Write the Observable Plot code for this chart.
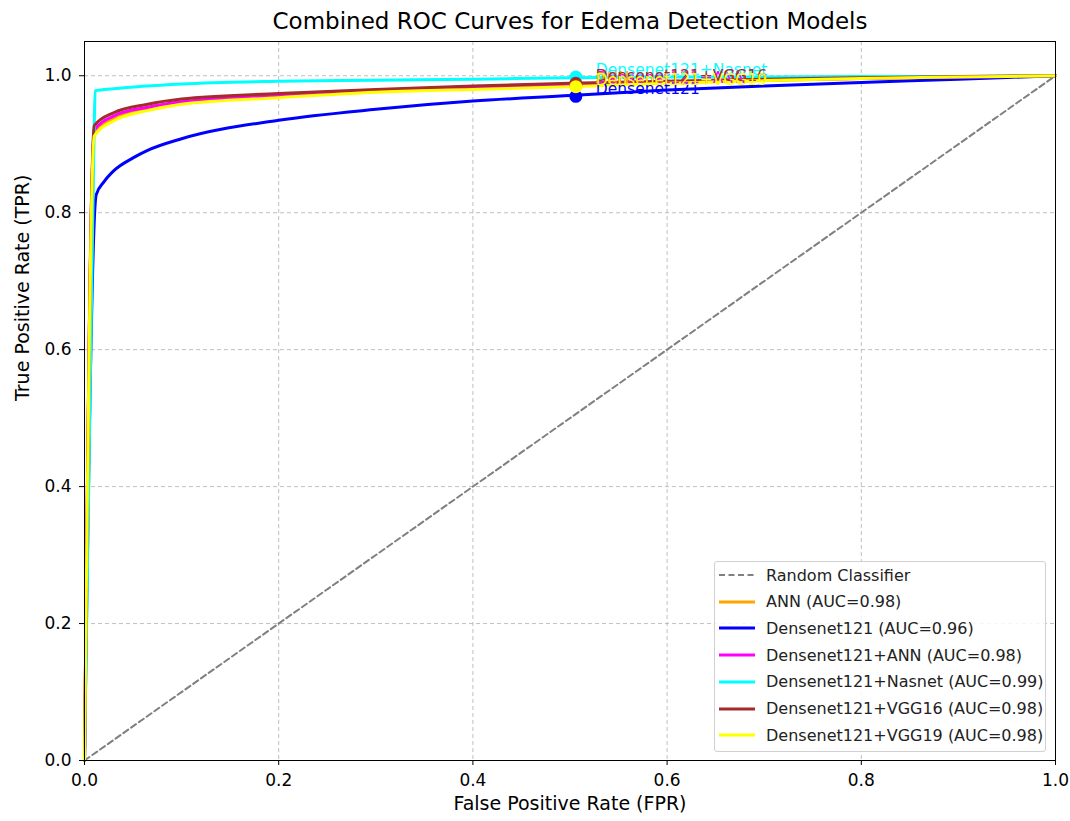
<!DOCTYPE html>
<html>
<head>
<meta charset="utf-8">
<script src="https://cdn.jsdelivr.net/npm/d3@7"></script>
<script src="https://cdn.jsdelivr.net/npm/@observablehq/plot@0.6"></script>
<style>
  body { margin: 0; background: #fff; font-family: "DejaVu Sans", sans-serif; }
  #wrap { position: relative; width: 1070px; height: 821px; }
  #legend { position: absolute; left: 714px; top: 561px; width: 332px; height: 191px; box-sizing: border-box;
    border: 1px solid #d0d0d0; border-radius: 3px; background: rgba(255,255,255,0.85); font-size: 16px; color: #222; }
  .row { position: absolute; left: 0; height: 20px; display: flex; align-items: center; white-space: nowrap; }
  .row svg { margin-left: 4px; margin-right: 11px; }
</style>
</head>
<body>
<div id="wrap"></div>
<script>
// ---- data ----
const models = ["ANN", "Densenet121", "Densenet121+ANN", "Densenet121+Nasnet", "Densenet121+VGG16", "Densenet121+VGG19"];
const aucs = [0.98, 0.96, 0.98, 0.99, 0.98, 0.98];
const colors = ["orange", "blue", "magenta", "cyan", "brown", "yellow"];

const fprANN      = [0, 0.01, 0.03, 0.065, 0.1, 0.2, 0.3, 0.4, 0.5, 0.6, 0.7, 0.8, 0.9, 1];
const tprANN      = [0, 0.915, 0.937, 0.951, 0.960, 0.970, 0.977, 0.982, 0.986, 0.990, 0.993, 0.996, 0.998, 1];
const fprDense    = [0, 0.012, 0.02, 0.03, 0.05, 0.065, 0.1, 0.2, 0.3, 0.4, 0.5, 0.6, 0.7, 0.8, 0.9, 1];
const tprDense    = [0, 0.826, 0.845, 0.861, 0.880, 0.891, 0.908, 0.935, 0.951, 0.963, 0.971, 0.979, 0.985, 0.990, 0.995, 1];
const fprDenseANN = [0, 0.01, 0.03, 0.065, 0.1, 0.2, 0.3, 0.4, 0.5, 0.6, 0.7, 0.8, 0.9, 1];
const tprDenseANN = [0, 0.920, 0.941, 0.954, 0.962, 0.971, 0.978, 0.983, 0.987, 0.991, 0.994, 0.996, 0.998, 1];
const fprNasnet   = [0, 0.01, 0.011, 0.03, 0.1, 0.2, 0.3, 0.4, 0.5, 0.6, 0.7, 0.8, 0.9, 1];
const tprNasnet   = [0, 0.927, 0.978, 0.981, 0.988, 0.992, 0.9935, 0.995, 0.997, 0.998, 0.998, 0.999, 0.999, 1];
const fprVGG16    = [0, 0.01, 0.03, 0.065, 0.1, 0.2, 0.3, 0.4, 0.5, 0.6, 0.7, 0.8, 0.9, 1];
const tprVGG16    = [0, 0.927, 0.946, 0.9585, 0.966, 0.974, 0.980, 0.985, 0.989, 0.992, 0.995, 0.997, 0.999, 1];
const fprVGG19    = [0, 0.01, 0.03, 0.065, 0.1, 0.2, 0.3, 0.4, 0.5, 0.6, 0.7, 0.8, 0.9, 1];
const tprVGG19    = [0, 0.912, 0.934, 0.949, 0.9585, 0.968, 0.976, 0.980, 0.984, 0.989, 0.993, 0.996, 0.998, 1];

// annotated operating points
const markerFpr = [0.506, 0.506, 0.506, 0.506, 0.506, 0.506];
const markerTpr = [0.986, 0.970, 0.987, 0.998, 0.989, 0.984];

const randomFpr = [0, 1];
const randomTpr = [0, 1];

const xTicks = [0, 0.2, 0.4, 0.6, 0.8, 1.0];
const yTicks = [0, 0.2, 0.4, 0.6, 0.8, 1.0];

const title = "Combined ROC Curves for Edema Detection Models";
const xLabel = "False Positive Rate (FPR)";
const yLabel = "True Positive Rate (TPR)";

// ---- build tables ----
const series = [
  [fprANN, tprANN], [fprDense, tprDense], [fprDenseANN, tprDenseANN],
  [fprNasnet, tprNasnet], [fprVGG16, tprVGG16], [fprVGG19, tprVGG19]
];
const rows = [];
series.forEach(([fx, ty], i) => fx.forEach((f, j) => rows.push({model: models[i], fpr: f, tpr: ty[j]})));
const markers = models.map((m, i) => ({model: m, fpr: markerFpr[i], tpr: markerTpr[i]}));
const randomRows = randomFpr.map((f, i) => ({fpr: f, tpr: randomTpr[i]}));

const chart = Plot.plot({
  width: 1070, height: 821,
  marginLeft: 84, marginRight: 15, marginTop: 41, marginBottom: 61,
  style: {fontFamily: "DejaVu Sans, sans-serif", fontSize: "17px", color: "black", background: "white"},
  x: {domain: [0, 1]},
  y: {domain: [0, 1.05]},
  color: {domain: models, range: colors},
  marks: [
    Plot.gridX(xTicks, {stroke: "#b0b0b0", strokeOpacity: 0.8, strokeDasharray: "4,3"}),
    Plot.gridY(yTicks, {stroke: "#b0b0b0", strokeOpacity: 0.8, strokeDasharray: "4,3"}),
    Plot.line(randomRows, {x: "fpr", y: "tpr", stroke: "gray", strokeWidth: 2, strokeDasharray: "6,3.5"}),
    Plot.line(rows, {x: "fpr", y: "tpr", z: "model", stroke: "model", strokeWidth: 3, curve: "monotone-x"}),
    Plot.dot(markers, {x: "fpr", y: "tpr", fill: "model", r: 6.5}),
    Plot.text(markers, {x: "fpr", y: "tpr", text: "model", fill: "model", dx: 20, dy: -7, textAnchor: "start", fontSize: 15.5}),
    Plot.frame({stroke: "black"}),
    Plot.axisX(xTicks, {tickFormat: d => d.toFixed(1), tickSize: 5, tickPadding: 8, label: null, fontSize: 17}),
    Plot.axisY(yTicks, {tickFormat: d => d.toFixed(1), tickSize: 5, tickPadding: 8, label: null, fontSize: 17}),
    Plot.text([title], {frameAnchor: "top", lineAnchor: "middle", dy: -20, fontSize: 23, fill: "black"}),
    Plot.text([xLabel], {frameAnchor: "bottom", lineAnchor: "middle", dy: 43, fontSize: 19, fill: "black"}),
    Plot.text([yLabel], {frameAnchor: "left", lineAnchor: "middle", dx: -62, rotate: -90, fontSize: 19, fill: "black"})
  ]
});
const wrap = document.getElementById("wrap");
wrap.appendChild(chart);

// ---- legend ----
const legend = document.createElement("div");
legend.id = "legend";
const entries = [{label: "Random Classifier", color: "gray", dash: "6,3.5", w: 2}]
  .concat(models.map((m, i) => ({label: `${m} (AUC=${aucs[i].toFixed(2)})`, color: colors[i], dash: null, w: 3})));
entries.forEach((e, i) => {
  const r = document.createElement("div");
  r.className = "row";
  r.style.top = (3 + i * 26.7) + "px";
  r.innerHTML = `<svg width="36" height="10"><line x1="0" y1="5" x2="36" y2="5" stroke="${e.color}" stroke-width="${e.w}" ${e.dash ? `stroke-dasharray="${e.dash}"` : ""}/></svg><span>${e.label}</span>`;
  legend.appendChild(r);
});
wrap.appendChild(legend);
</script>
</body>
</html>
